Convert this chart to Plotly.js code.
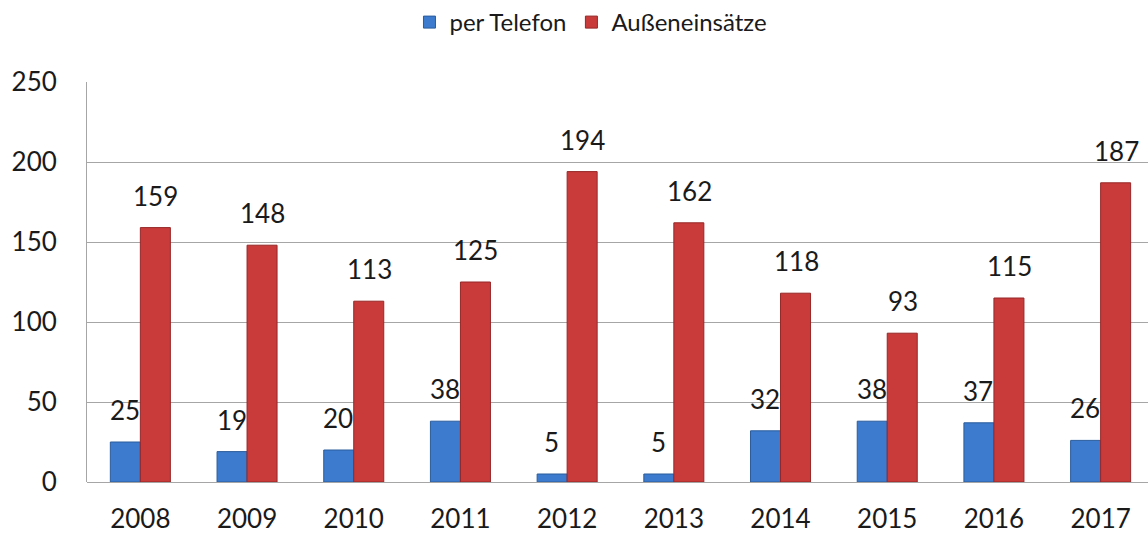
<!DOCTYPE html>
<html>
<head>
<meta charset="utf-8">
<script src="https://cdn.plot.ly/plotly-3.0.1.min.js"></script>
<style>html,body{margin:0;padding:0;background:#fff;}#chart{width:1148px;height:533px;}</style>
</head>
<body>
<div id="chart"></div>
<script>
const years = ['2008','2009','2010','2011','2012','2013','2014','2015','2016','2017'];
const perTelefon = [25, 19, 20, 38, 5, 5, 32, 38, 37, 26];
const aussen = [159, 148, 113, 125, 194, 162, 118, 93, 115, 187];
const yTicks = [0, 50, 100, 150, 200, 250];

const FONT = 'Lato, Open Sans, sans-serif';

const traces = [
  {
    type: 'bar', name: 'per Telefon', x: years, y: perTelefon,
    marker: {color: '#3c7bcd', line: {color: '#2b5c9c', width: 1}},
    hoverinfo: 'x+y'
  },
  {
    type: 'bar', name: 'Außeneinsätze', x: years, y: aussen,
    marker: {color: '#c93b3b', line: {color: '#962727', width: 1}},
    hoverinfo: 'x+y'
  }
];

const annotations = [];
for (let i = 0; i < years.length; i++) {
  annotations.push({x: i, y: perTelefon[i], xref: 'x', yref: 'y', text: String(perTelefon[i]),
    showarrow: false, xshift: -15.5, yshift: 32, yanchor: 'middle', xanchor: 'center',
    font: {family: FONT, size: 26, color: '#1a1a1a'}});
  annotations.push({x: i, y: aussen[i], xref: 'x', yref: 'y', text: String(aussen[i]),
    showarrow: false, xshift: 15.5, yshift: 32, yanchor: 'middle', xanchor: 'center',
    font: {family: FONT, size: 26, color: '#1a1a1a'}});
}

const layout = {
  width: 1148, height: 533,
  margin: {l: 87, r: 0, t: 82, b: 51, pad: 0},
  paper_bgcolor: '#ffffff', plot_bgcolor: '#ffffff',
  barmode: 'group', bargap: 0.4375, bargroupgap: 0,
  font: {family: FONT, color: '#1a1a1a'},
  showlegend: true,
  legend: {orientation: 'h', x: 0.475, xanchor: 'center', y: 1.15, yanchor: 'middle',
    font: {family: FONT, size: 24, color: '#1a1a1a'}, itemwidth: 30, traceorder: 'normal'},
  xaxis: {type: 'category', range: [-0.5, 9.444], showgrid: false, zeroline: false, showline: false,
    ticks: '', ticklabelstandoff: 19, tickfont: {family: FONT, size: 26, color: '#1a1a1a'}, fixedrange: true},
  yaxis: {range: [0, 250], tickvals: yTicks, ticktext: yTicks.map(String), showgrid: true, gridcolor: '#a6a6a6', gridwidth: 1,
    zeroline: true, zerolinecolor: '#a6a6a6', zerolinewidth: 1,
    showline: true, linecolor: '#a6a6a6', linewidth: 1, ticks: '', ticklabelstandoff: 24,
    tickfont: {family: FONT, size: 26, color: '#1a1a1a'}, fixedrange: true},
  annotations: annotations
};

Plotly.newPlot('chart', traces, layout, {displayModeBar: false, staticPlot: true});
</script>
</body>
</html>
